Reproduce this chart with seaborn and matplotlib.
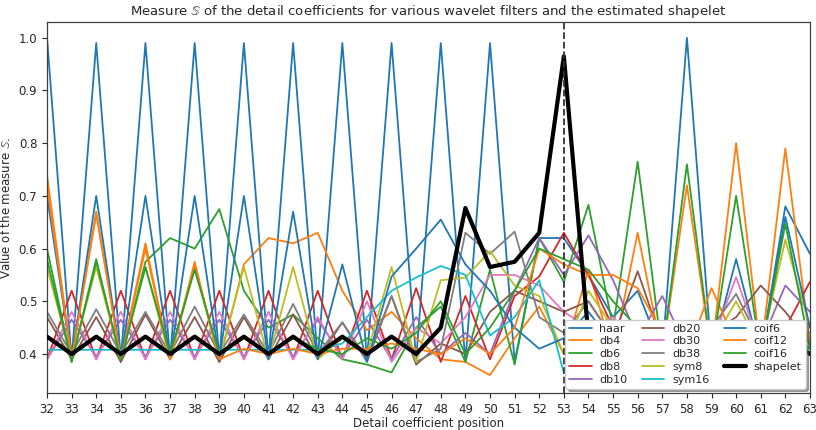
import numpy as np
import pandas as pd
import matplotlib
matplotlib.use("Agg")
import matplotlib.pyplot as plt
import seaborn as sns

positions = list(range(32, 64))

haar = [1.00, 0.39, 0.99, 0.39, 0.99, 0.39, 0.99, 0.39, 0.99, 0.39, 0.99, 0.39,
        0.99, 0.39, 0.99, 0.39, 0.99, 0.385, 0.99, 0.385, 0.62, 0.62, 0.55, 0.47,
        0.52, 0.40, 1.00, 0.40, 0.58, 0.40, 0.68, 0.59]
db4 = [0.74, 0.39, 0.67, 0.39, 0.61, 0.39, 0.575, 0.385, 0.57, 0.62, 0.61, 0.63,
       0.52, 0.445, 0.48, 0.43, 0.39, 0.385, 0.36, 0.43, 0.49, 0.40, 0.56, 0.40,
       0.63, 0.40, 0.72, 0.40, 0.80, 0.40, 0.79, 0.42]
db6 = [0.60, 0.385, 0.58, 0.385, 0.575, 0.62, 0.60, 0.675, 0.52, 0.45, 0.475, 0.43,
       0.39, 0.38, 0.365, 0.45, 0.49, 0.385, 0.56, 0.38, 0.62, 0.537, 0.683, 0.45,
       0.765, 0.40, 0.76, 0.40, 0.45, 0.40, 0.44, 0.41]
db8 = [0.39, 0.52, 0.39, 0.52, 0.39, 0.52, 0.39, 0.52, 0.39, 0.52, 0.39, 0.52,
       0.39, 0.52, 0.39, 0.525, 0.385, 0.51, 0.39, 0.51, 0.547, 0.63, 0.55, 0.45,
       0.42, 0.40, 0.44, 0.41, 0.42, 0.40, 0.45, 0.537]
db10 = [0.39, 0.465, 0.395, 0.465, 0.395, 0.465, 0.395, 0.465, 0.395, 0.465, 0.395, 0.465,
        0.395, 0.465, 0.39, 0.47, 0.40, 0.44, 0.40, 0.52, 0.62, 0.55, 0.625, 0.54,
        0.43, 0.51, 0.41, 0.40, 0.44, 0.42, 0.53, 0.48]
db20 = [0.47, 0.39, 0.47, 0.385, 0.475, 0.39, 0.47, 0.385, 0.47, 0.39, 0.475, 0.39,
        0.46, 0.39, 0.51, 0.38, 0.42, 0.40, 0.48, 0.52, 0.50, 0.48, 0.50, 0.43,
        0.557, 0.42, 0.40, 0.44, 0.47, 0.53, 0.48, 0.42]
db30 = [0.39, 0.48, 0.39, 0.48, 0.39, 0.48, 0.39, 0.48, 0.39, 0.48, 0.39, 0.47,
        0.39, 0.50, 0.385, 0.45, 0.42, 0.47, 0.55, 0.55, 0.53, 0.48, 0.45, 0.47,
        0.42, 0.44, 0.40, 0.42, 0.546, 0.41, 0.45, 0.43]
db38 = [0.48, 0.40, 0.485, 0.40, 0.48, 0.40, 0.49, 0.40, 0.475, 0.40, 0.495, 0.40,
        0.46, 0.385, 0.51, 0.385, 0.41, 0.63, 0.59, 0.632, 0.47, 0.44, 0.50, 0.43,
        0.45, 0.42, 0.41, 0.45, 0.514, 0.42, 0.46, 0.44]
sym8 = [0.565, 0.39, 0.565, 0.39, 0.565, 0.39, 0.565, 0.39, 0.565, 0.39, 0.565, 0.39,
        0.43, 0.40, 0.565, 0.385, 0.54, 0.545, 0.595, 0.53, 0.51, 0.40, 0.52, 0.45,
        0.42, 0.41, 0.46, 0.42, 0.50, 0.41, 0.617, 0.45]
sym16 = [0.408, 0.408, 0.408, 0.408, 0.408, 0.408, 0.408, 0.408, 0.408, 0.408, 0.408, 0.408,
         0.42, 0.47, 0.52, 0.545, 0.567, 0.55, 0.435, 0.47, 0.54, 0.364, 0.42, 0.40,
         0.43, 0.41, 0.44, 0.41, 0.42, 0.40, 0.43, 0.41]
coif6 = [0.70, 0.39, 0.70, 0.39, 0.70, 0.39, 0.70, 0.39, 0.70, 0.39, 0.67, 0.39,
         0.57, 0.385, 0.547, 0.60, 0.655, 0.57, 0.52, 0.45, 0.41, 0.43, 0.48, 0.42,
         0.45, 0.40, 0.42, 0.41, 0.44, 0.40, 0.66, 0.45]
coif12 = [0.72, 0.39, 0.665, 0.39, 0.60, 0.39, 0.57, 0.39, 0.41, 0.40, 0.41, 0.40,
          0.41, 0.41, 0.42, 0.41, 0.40, 0.43, 0.40, 0.45, 0.60, 0.57, 0.55, 0.55,
          0.525, 0.44, 0.40, 0.525, 0.42, 0.40, 0.43, 0.40]
coif16 = [0.58, 0.385, 0.575, 0.39, 0.565, 0.40, 0.56, 0.40, 0.43, 0.40, 0.43, 0.41,
          0.40, 0.43, 0.41, 0.44, 0.50, 0.40, 0.45, 0.52, 0.60, 0.58, 0.56, 0.50,
          0.45, 0.40, 0.43, 0.40, 0.70, 0.40, 0.647, 0.41]
shapelet = [0.433, 0.40, 0.433, 0.40, 0.433, 0.40, 0.433, 0.40, 0.433, 0.40, 0.433, 0.40,
            0.433, 0.40, 0.433, 0.40, 0.45, 0.677, 0.565, 0.575, 0.63, 0.965, 0.433, 0.40,
            0.433, 0.40, 0.433, 0.40, 0.433, 0.40, 0.433, 0.40]

filter_names = ["haar", "db4", "db6", "db8", "db10", "db20", "db30", "db38",
                "sym8", "sym16", "coif6", "coif12", "coif16", "shapelet"]
filter_values = [haar, db4, db6, db8, db10, db20, db30, db38,
                 sym8, sym16, coif6, coif12, coif16, shapelet]
marked_position = 53

sns.set_style("ticks", {"axes.edgecolor": "0.25", "xtick.color": "0.15",
                        "ytick.color": "0.15"})
plt.rcParams["font.family"] = ["DejaVu Sans"]

tab = sns.color_palette("tab10")
colors = {name: tab[i % 10] for i, name in enumerate(filter_names[:13])}
colors["coif6"], colors["coif12"], colors["coif16"] = tab[0], tab[1], tab[2]
colors["shapelet"] = "black"

df = pd.concat(
    [pd.DataFrame({"position": positions, "value": vals, "filter": name})
     for name, vals in zip(filter_names, filter_values)],
    ignore_index=True,
)

fig = plt.figure(figsize=(8.16, 4.30), dpi=100)
ax = fig.add_axes([0.0576, 0.086, 0.935, 0.863])

for name in filter_names:
    sub = df[df["filter"] == name]
    sns.lineplot(data=sub, x="position", y="value", ax=ax, color=colors[name],
                 linewidth=3.0 if name == "shapelet" else 1.3, label=name,
                 zorder=3 if name == "shapelet" else 2)

ax.axvline(marked_position, color="0.2", linestyle="--", linewidth=1.3, zorder=4)

ax.set_xlim(32, 63)
ax.set_ylim(0.326, 1.03)
ax.set_xticks(positions)
ax.set_yticks([0.4, 0.5, 0.6, 0.7, 0.8, 0.9, 1.0])
ax.tick_params(labelsize=8.5, length=3.5, width=0.8)
for s in ax.spines.values():
    s.set_visible(True)
    s.set_linewidth(0.9)

ax.set_xlabel("Detail coefficient position", fontsize=8.5, labelpad=1)
ax.set_ylabel(r"Value of the measure $\mathbb{S}$.", fontsize=8.5, labelpad=4)
ax.set_title(r"Measure $\mathbb{S}$ of the detail coefficients for various wavelet "
             r"filters and the estimated shapelet", fontsize=9.5, pad=5)

ax.legend(ncol=3, loc="lower right", fontsize=8, shadow=True, framealpha=1,
          fancybox=True, borderaxespad=0.4, columnspacing=1.3, handlelength=2.0,
          handletextpad=0.7, labelspacing=0.25, borderpad=0.35, edgecolor="0.8")

fig.savefig("out.png", dpi=100)
